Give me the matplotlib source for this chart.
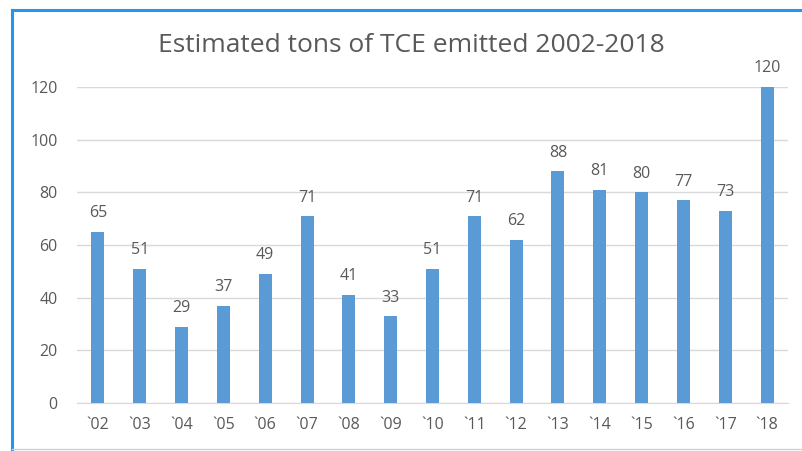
import matplotlib.pyplot as plt
from matplotlib.lines import Line2D

years = ["`02", "`03", "`04", "`05", "`06", "`07", "`08", "`09", "`10",
         "`11", "`12", "`13", "`14", "`15", "`16", "`17", "`18"]
tons = [65, 51, 29, 37, 49, 71, 41, 33, 51, 71, 62, 88, 81, 80, 77, 73, 120]

plt.rcParams["font.family"] = ["Open Sans", "DejaVu Sans"]
text_color = "#595959"

fig = plt.figure(figsize=(8.03, 4.51), dpi=100)
ax = fig.add_axes([77 / 803, 1 - 403 / 451, 711 / 803, 316 / 451])

x = range(len(years))
bars = ax.bar(x, tons, width=0.31, color="#5B9BD5", zorder=3)

for bar, val in zip(bars, tons):
    ax.text(bar.get_x() + bar.get_width() / 2, val + 4, str(val),
            ha="center", va="bottom", fontsize=11.5, color=text_color, clip_on=False)

ax.set_xlim(-0.5, len(years) - 0.5)
ax.set_ylim(0, 120)
ax.set_yticks(range(0, 121, 20))
ax.set_xticks(list(x))
ax.set_xticklabels(years)
ax.tick_params(axis="both", length=0, labelsize=11.5, colors=text_color)
ax.tick_params(axis="y", pad=14)
ax.tick_params(axis="x", pad=10)
ax.grid(axis="y", color="#D9D9D9", linewidth=1, zorder=0)
for side in ["top", "right", "left"]:
    ax.spines[side].set_visible(False)
ax.spines["bottom"].set_color("#D9D9D9")

fig.text(411 / 803, 1 - 45 / 451, "Estimated tons of TCE emitted 2002-2018",
         ha="center", va="center", fontsize=19, color=text_color)

# blue selection frame (top and left) and grey bottom edge
fig.add_artist(Line2D([12 / 803, 1], [1 - 10 / 451, 1 - 10 / 451], color="#2196F3", linewidth=2.2))
fig.add_artist(Line2D([12 / 803, 12 / 803], [0, 1 - 10 / 451], color="#2196F3", linewidth=2.2))
fig.add_artist(Line2D([12 / 803, 1], [1 - 449 / 451, 1 - 449 / 451], color="#D0D0D0", linewidth=1))

fig.savefig("out.png", dpi=100)
